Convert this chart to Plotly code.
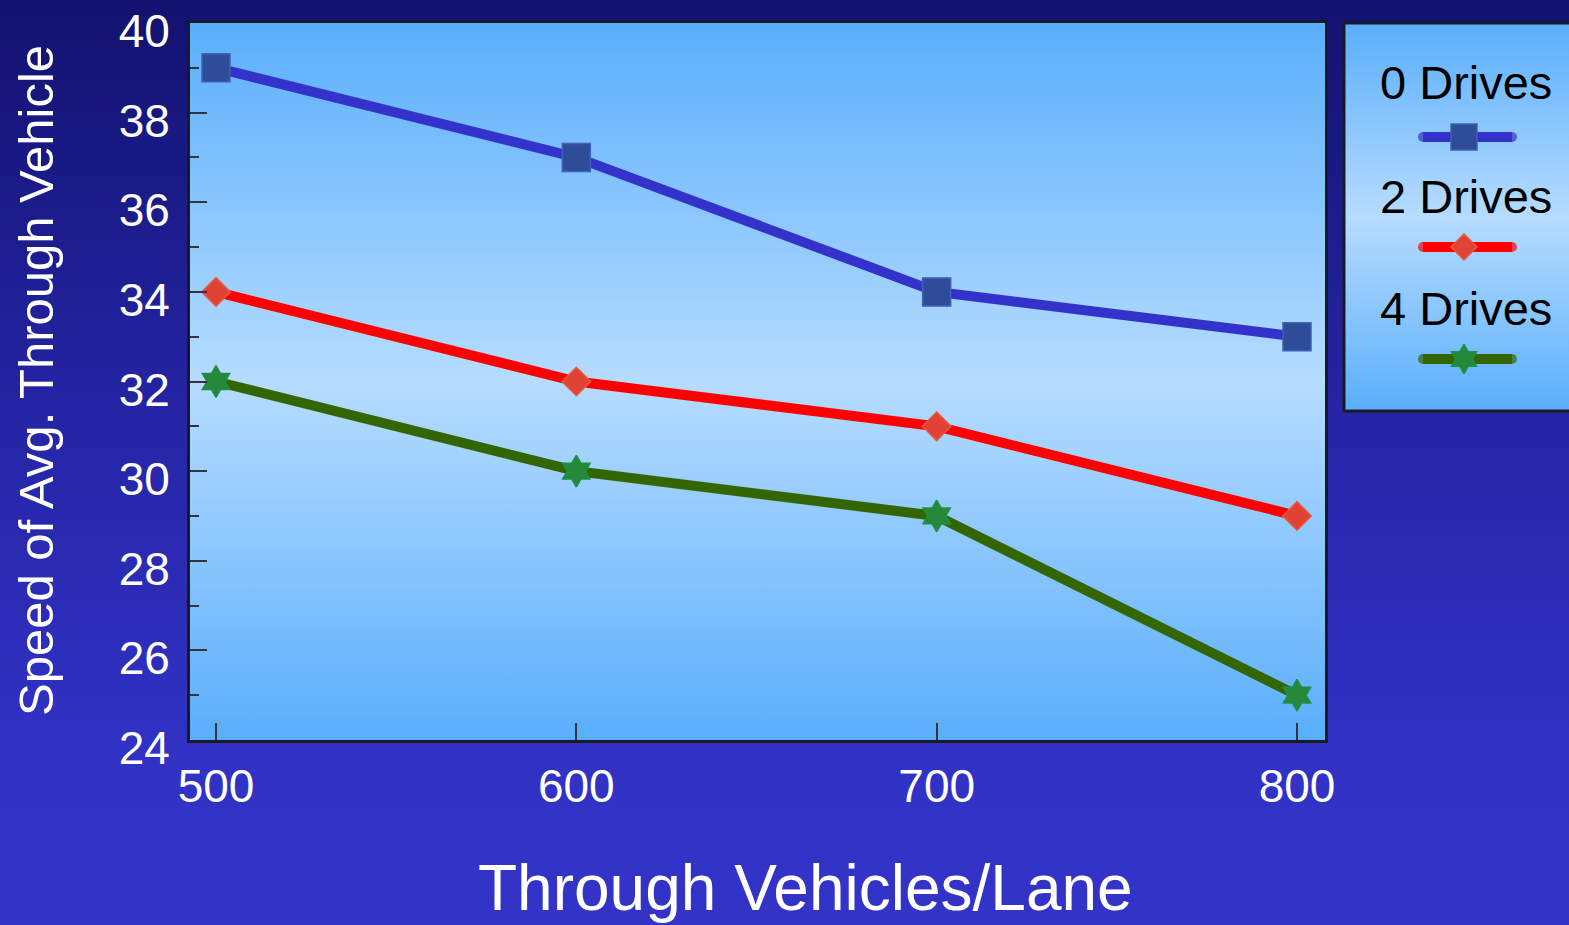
import base64
import plotly.graph_objects as go

# ---------------- data ----------------
vehicles = [500, 600, 700, 800]
drives_0 = [39, 37, 34, 33]
drives_2 = [34, 32, 31, 29]
drives_4 = [32, 30, 29, 25]
series_names = ["0 Drives", "2 Drives", "4 Drives"]
y_ticks = [24, 26, 28, 30, 32, 34, 36, 38, 40]

# ---------------- layout constants ----------------
W, H = 1569, 925
PL, PR, PT, PB = 190, 1325, 23, 740          # plot area in px
LEG_L, LEG_T, LEG_B = 1344, 23, 411          # legend box in px
FONT = "Liberation Sans, Arial, sans-serif"

line_colors = ["#3333cc", "#ff0000", "#336600"]
marker_colors = ["#2f4c98", "#e04335", "#25883a"]
marker_edges = ["#3a62b8", "#e85a40", "#1f8f45"]
symbols = ["square", "diamond", "hexagram"]
msizes = [28, 22, 24]


def grad_uri(stops):
    st = "".join(f"<stop offset='{o}' stop-color='{c}'/>" for o, c in stops)
    svg = ("<svg xmlns='http://www.w3.org/2000/svg' width='100' height='100' "
           "preserveAspectRatio='none'><defs><linearGradient id='g' x1='0' y1='0' "
           f"x2='0' y2='1'>{st}</linearGradient></defs>"
           "<rect width='100' height='100' fill='url(#g)'/></svg>")
    return "data:image/svg+xml;base64," + base64.b64encode(svg.encode()).decode()


bg_uri = grad_uri([(0, "#121270"), (0.45, "#2525a6"), (0.8, "#3131c4"), (1, "#3333c8")])
panel_uri = grad_uri([(0, "#5aaefc"), (0.5, "#b6dcff"), (1, "#5aaefc")])


def px_x(p):
    return p / W


def px_y(p):
    return 1 - p / H


fig = go.Figure()

for name, ys, lc, mc, me, sym, ms in zip(series_names, [drives_0, drives_2, drives_4],
                                         line_colors, marker_colors, marker_edges,
                                         symbols, msizes):
    fig.add_trace(go.Scatter(
        x=vehicles, y=ys, name=name, mode="lines+markers",
        line=dict(color=lc, width=10),
        marker=dict(symbol=sym, size=ms, color=mc, line=dict(color=me, width=1.5)),
        showlegend=False, xaxis="x", yaxis="y"))

# custom legend samples (text above, sample line below)
leg_line_y = [137, 247, 359]
leg_text_y = [83, 196, 309]
leg_x0, leg_xm, leg_x1 = 1423, 1464, 1512
for i, name in enumerate(series_names):
    fig.add_trace(go.Scatter(
        x=[leg_x0, leg_xm, leg_x1], y=[leg_line_y[i]] * 3, mode="lines+markers",
        line=dict(color=line_colors[i], width=10),
        marker=dict(symbol="circle", size=[10, 0, 10], color=line_colors[i],
                    line=dict(width=0)),
        showlegend=False, hoverinfo="skip", xaxis="x2", yaxis="y2"))
    fig.add_trace(go.Scatter(
        x=[leg_xm], y=[leg_line_y[i]], mode="markers",
        marker=dict(symbol=symbols[i], size=msizes[i] - 2, color=marker_colors[i],
                    line=dict(color=marker_edges[i], width=1.5)),
        showlegend=False, hoverinfo="skip", xaxis="x2", yaxis="y2"))

annotations = [
    dict(text="Through Vehicles/Lane", x=px_x(805), y=px_y(888), xref="paper", yref="paper",
         xanchor="center", yanchor="middle", showarrow=False,
         font=dict(family=FONT, size=64, color="white")),
    dict(text="Speed of Avg. Through Vehicle", x=px_x(36), y=px_y(381), xref="paper",
         yref="paper", xanchor="center", yanchor="middle", textangle=-90, showarrow=False,
         font=dict(family=FONT, size=49, color="white")),
]
for i, name in enumerate(series_names):
    annotations.append(dict(text=name, x=px_x(1466), y=px_y(leg_text_y[i]), xref="paper",
                            yref="paper", xanchor="center", yanchor="middle",
                            showarrow=False, font=dict(family=FONT, size=47, color="black")))

images = [
    dict(source=bg_uri, xref="paper", yref="paper", x=0, y=1, sizex=1, sizey=1,
         sizing="stretch", layer="below"),
    dict(source=panel_uri, xref="paper", yref="paper", x=px_x(PL), y=px_y(PT),
         sizex=(PR - PL) / W, sizey=(PB - PT) / H, sizing="stretch", layer="below"),
    dict(source=panel_uri, xref="paper", yref="paper", x=px_x(LEG_L), y=px_y(LEG_T),
         sizex=(W + 10 - LEG_L) / W, sizey=(LEG_B - LEG_T) / H, sizing="stretch",
         layer="below"),
]

shapes = [
    dict(type="rect", xref="paper", yref="paper", x0=px_x(LEG_L), x1=px_x(W + 10),
         y0=px_y(LEG_B), y1=px_y(LEG_T), line=dict(color="#1a1a26", width=3),
         fillcolor="rgba(0,0,0,0)", layer="above"),
]

px_per_unit = (1297 - 216) / 300
x_lo = 500 - (216 - PL) / px_per_unit
x_hi = 800 + (PR - 1297) / px_per_unit

fig.update_layout(
    width=W, height=H,
    margin=dict(l=0, r=0, t=0, b=0),
    paper_bgcolor="#2222a0",
    plot_bgcolor="rgba(0,0,0,0)",
    font=dict(family=FONT, color="white"),
    showlegend=False,
    images=images,
    shapes=shapes,
    annotations=annotations,
    xaxis=dict(domain=[px_x(PL), px_x(PR)], range=[x_lo, x_hi], tickvals=vehicles,
               ticks="inside", ticklen=17, tickwidth=1.5, tickcolor="#333344",
               showgrid=False, zeroline=False, showline=True, mirror=True,
               linecolor="#1a1a26", linewidth=3, automargin=False,
               tickfont=dict(family=FONT, size=46, color="white"),
               ticklabelstandoff=4, ticklabeloverflow="allow", anchor="y"),
    yaxis=dict(domain=[px_y(PB), px_y(PT)], range=[24, 40], tickvals=y_ticks,
               ticks="inside", ticklen=17, tickwidth=1.5, tickcolor="#333344",
               minor=dict(dtick=1, ticks="inside", ticklen=9, tickwidth=1.5,
                          tickcolor="#333344", showgrid=False),
               showgrid=False, zeroline=False, showline=True, mirror=True,
               linecolor="#1a1a26", linewidth=3, automargin=False,
               tickfont=dict(family=FONT, size=46, color="white"),
               ticklabelstandoff=8, ticklabelshift=8, ticklabeloverflow="allow",
               anchor="x"),
    xaxis2=dict(domain=[0, 1], range=[0, W], visible=False, fixedrange=True,
                anchor="y2"),
    yaxis2=dict(domain=[0, 1], range=[H, 0], visible=False, fixedrange=True,
                anchor="x2"),
)

fig.write_html("out.html")
